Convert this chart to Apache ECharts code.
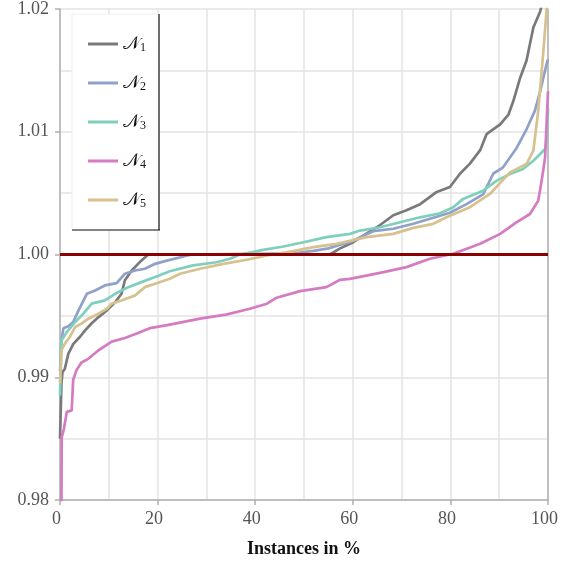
<!DOCTYPE html>
<html><head><meta charset="utf-8">
<script src="https://cdn.jsdelivr.net/npm/echarts@6/dist/echarts.min.js"></script>
<style>html,body{margin:0;padding:0;background:#fff}#c{width:574px;height:565px}</style>
</head><body><div id="c"></div>
<script>
const seriesNames = ['N1','N2','N3','N4','N5'];
const seriesSubs = ['1','2','3','4','5'];
const seriesColors = ['#7a7a7a','#8fa1c9','#7fcfbd','#d47bc1','#d6c18f'];
const xTicks = [0,20,40,60,80,100];
const yTicks = [0.98,0.99,1.00,1.01,1.02];
const refValue = 1.0;

const N1 = [[0,0.985],[0.3,0.9895],[0.5,0.9904],[1,0.9907],[1.7,0.9919],[2.7,0.9927],[4.1,0.9933],[5.1,0.9938],[6.5,0.9944],[7.9,0.9949],[9.6,0.99545],[11.3,0.9961],[12.6,0.9968],[13.3,0.9979],[14.7,0.9987],[16.4,0.9994],[18.1,1.0],[30,1.0],[45,1.0],[55.3,1.0],[57.4,1.0005],[60.1,1.001],[62.8,1.0017],[65.6,1.0024],[68.3,1.0032],[71,1.0036],[73.8,1.0041],[77.2,1.0051],[79.9,1.0055],[82,1.0066],[84,1.0074],[86.1,1.0085],[87.4,1.0098],[90.2,1.0106],[91.9,1.0114],[92.9,1.0125],[94.3,1.0144],[95.6,1.0158],[97,1.0185],[98.4,1.0198],[100,1.0225]];
const N2 = [[0,0.9905],[0.3,0.993],[0.7,0.994],[1.7,0.99415],[2.7,0.9945],[3.8,0.99545],[5.5,0.9968],[7.2,0.99707],[9.2,0.99748],[11.6,0.99767],[13.3,0.99843],[15.4,0.9987],[17.4,0.99884],[19.5,0.99924],[21.5,0.99946],[25.3,0.99984],[27,1.0],[48,1.0001],[51.9,1.0003],[55,1.0005],[57.4,1.0008],[59.4,1.001],[61.5,1.0014],[64.2,1.0019],[68.3,1.0021],[72.4,1.0025],[76.5,1.003],[79.9,1.0034],[83.3,1.0041],[86.7,1.0049],[88.8,1.0066],[90.8,1.0071],[93.6,1.0087],[95.6,1.0102],[97.3,1.0117],[98.4,1.0133],[99.7,1.0155],[100,1.0159]];
const N3 = [[0,0.9885],[0.3,0.993],[1.4,0.99368],[3.1,0.9945],[4.8,0.99518],[6.5,0.996],[9.2,0.99626],[11.3,0.9968],[14,0.99734],[16.7,0.99775],[19.5,0.99816],[22.5,0.99864],[27.3,0.99911],[32.1,0.99937],[34.8,0.99965],[36.9,1.0],[41,1.00033],[45.8,1.00065],[49.9,1.001],[54.6,1.00141],[59.4,1.00168],[61.5,1.00195],[65.6,1.00222],[69.7,1.00263],[73.8,1.00303],[77.9,1.00336],[80.6,1.00385],[82.6,1.00453],[86.7,1.0052],[89.5,1.00602],[92.2,1.00656],[94.9,1.00697],[97,1.00764],[99.4,1.00859],[99.8,1.0095],[100,1.0119]];
const N4 = [[0.25,0.975],[0.35,0.9851],[0.8,0.9858],[1.4,0.98718],[2.4,0.9873],[2.7,0.9898],[3.4,0.9906],[4.4,0.9912],[5.8,0.9915],[7.9,0.9922],[10.6,0.9929],[13.3,0.9932],[16,0.9936],[18.4,0.994],[22,0.99425],[28.7,0.99477],[34,0.9951],[38.9,0.99558],[42.4,0.99599],[44.4,0.99648],[49.2,0.99702],[54.6,0.99734],[57.4,0.99794],[59.4,0.99802],[63,0.9983],[66.3,0.99856],[71,0.99897],[75.8,0.99965],[80.6,1.00006],[86.1,1.00087],[90.2,1.00168],[93.6,1.00263],[96.3,1.0033],[98,1.00439],[98.7,1.006],[99.4,1.0079],[100,1.0133]];
const N5 = [[0,0.9895],[0.3,0.9922],[1,0.99274],[2,0.99328],[3.1,0.99409],[4.4,0.99437],[5.8,0.99477],[7.9,0.99518],[9.6,0.99558],[10.6,0.996],[12.6,0.99626],[15.4,0.99667],[17.4,0.99734],[19.5,0.99762],[22.5,0.99802],[24.6,0.99843],[28.7,0.99884],[33.5,0.99924],[38.3,0.99957],[42.4,0.99992],[47.8,1.00027],[51.9,1.0006],[56.7,1.00087],[62.8,1.00141],[68.3,1.00168],[72.4,1.00217],[76.5,1.0025],[79.2,1.00303],[81.6,1.00344],[84,1.00385],[88.1,1.00493],[92.2,1.00669],[95.6,1.00737],[97,1.00846],[98,1.01171],[99,1.01632],[99.7,1.01984],[100,1.0215]];
const allData = [N1,N2,N3,N4,N5];

const serif = '"Liberation Serif", "DejaVu Serif", serif';
const chart = echarts.init(document.getElementById('c'), null, {renderer:'canvas'});
const gridCol = '#e3e3e3';
const axisCol = '#b0b0b0';

const series = seriesNames.map((n,i)=>({
  name:n, type:'line', data:allData[i], showSymbol:false, symbol:'none',
  lineStyle:{color:seriesColors[i], width:2.7}, itemStyle:{color:seriesColors[i]},
  z:3, animation:false
}));
series.push({
  name:'ref', type:'line', data:[[0,refValue],[100,refValue]], showSymbol:false, symbol:'none',
  lineStyle:{color:'#8b0000', width:3}, z:6, animation:false, silent:true
});

chart.setOption({
  animation:false,
  backgroundColor:'#fff',
  grid:{left:60, right:26, top:8, bottom:65, containLabel:false},
  xAxis:{
    type:'value', min:0, max:100, interval:20,
    name:'Instances in %', nameLocation:'middle', nameGap:40,
    nameTextStyle:{fontFamily:serif, fontWeight:'bold', fontSize:18, color:'#111'},
    axisLine:{show:true, lineStyle:{color:axisCol, width:1.5}},
    axisTick:{show:true, length:5, lineStyle:{color:axisCol, width:1.5}},
    axisLabel:{fontFamily:serif, fontSize:18, color:'#555', margin:10, padding:[0,7,0,0]},
    splitLine:{show:true, lineStyle:{color:gridCol, width:1.5}},
    minorTick:{show:false, splitNumber:2},
    minorSplitLine:{show:true, lineStyle:{color:gridCol, width:1.5}}
  },
  yAxis:[{
    type:'value', min:0.98, max:1.02, interval:0.01,
    axisLine:{show:true, lineStyle:{color:axisCol, width:1.5}},
    axisTick:{show:true, length:5, lineStyle:{color:axisCol, width:1.5}},
    axisLabel:{fontFamily:serif, fontSize:18, color:'#555', margin:11, formatter:v=>v.toFixed(2)},
    splitLine:{show:true, lineStyle:{color:gridCol, width:1.5}},
    minorTick:{show:false, splitNumber:2},
    minorSplitLine:{show:true, lineStyle:{color:gridCol, width:1.5}}
  },{
    type:'value', min:0.98, max:1.02, interval:0.01, position:'right',
    axisLine:{show:true, lineStyle:{color:axisCol, width:1.5}},
    axisTick:{show:false}, axisLabel:{show:false}, splitLine:{show:false}
  }],
  legend:{
    data:seriesNames, orient:'vertical', left:88, top:35, padding:0,
    icon:'rect', itemWidth:30, itemHeight:3, itemGap:20,
    formatter:(name)=>'{n|\u{1D4A9}}{s|'+seriesSubs[seriesNames.indexOf(name)]+'}',
    textStyle:{
      padding:[0,0,0,0],
      rich:{
        n:{fontFamily:'"DejaVu Serif", "DejaVu Sans", serif', fontSize:18, color:'#111', height:19, verticalAlign:'middle'},
        s:{fontFamily:serif, fontSize:12, color:'#111', padding:[8,0,0,0], height:19, verticalAlign:'middle'}
      }
    },
    z:20
  },
  graphic:[
    {type:'rect', shape:{x:72,y:14,width:87,height:216}, style:{fill:'#fff', stroke:'#eeeeee', lineWidth:1}, z:15},
    {type:'line', shape:{x1:72,y1:230,x2:160,y2:230}, style:{stroke:'#111', lineWidth:1.2}, z:16},
    {type:'line', shape:{x1:159,y1:14,x2:159,y2:230}, style:{stroke:'#111', lineWidth:1.2}, z:16}
  ],
  series:series
});
</script>
</body></html>
